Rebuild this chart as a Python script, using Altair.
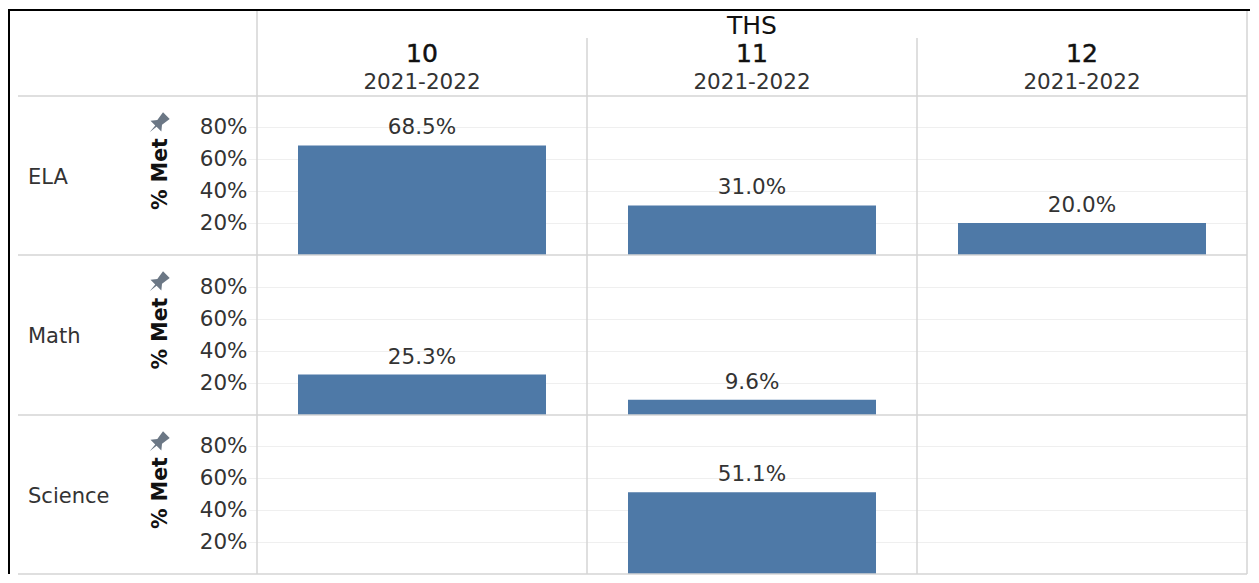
import altair as alt
import pandas as pd

grades = ["10", "11", "12"]
subjects = ["ELA", "Math", "Science"]
values = {
    "ELA": [0.685, 0.310, 0.200],
    "Math": [0.253, 0.096, None],
    "Science": [None, 0.511, None],
}
heights = [159, 160, 159]
y_max = [0.994, 1.0, 0.994]
ticks = [0.2, 0.4, 0.6, 0.8]
year = "2021-2022"
school = "THS"
FONT = "DejaVu Sans"
GRID = "#d4d4d4"
PIN = "M-0.4,-1 L0.4,-1 L0.28,-0.2 L0.65,0.25 L0.08,0.25 L0,1 L-0.08,0.25 L-0.65,0.25 L-0.28,-0.2 Z"
W = 990
LEFT = -248
RIGHT = 993
HH = 87

x_scale = alt.Scale(domain=grades, paddingInner=0, paddingOuter=0)
one = pd.DataFrame({"a": [1]})
gdf = pd.DataFrame({"grade": grades})


def rule(x=None, x2=None, y=None, y2=None, color=GRID, sw=1.5):
    enc = {}
    for k, v in (("x", x), ("x2", x2), ("y", y), ("y2", y2)):
        if v is not None:
            enc[k] = alt.value(v)
    return alt.Chart(one).mark_rule(color=color, strokeWidth=sw, clip=False).encode(**enc)


def grid_rule(df, y, y2):
    return alt.Chart(df).mark_rule(color=GRID, strokeWidth=1.5).encode(
        x=alt.X("grade:N", scale=x_scale, bandPosition=0, axis=None),
        y=alt.value(y), y2=alt.value(y2))


def row(name, h, ymax):
    df = pd.DataFrame({"grade": grades, "met": values[name]}).dropna()
    y = alt.Y("met:Q", scale=alt.Scale(domain=[0, ymax], nice=False),
              axis=alt.Axis(values=ticks, format=".0%", title="% Met", grid=True, gridColor="#efefef",
                            gridWidth=1, tickColor="#efefef", tickSize=9, domain=False,
                            labelFont=FONT, labelFontSize=21.5, labelColor="#333333", labelPadding=1,
                            titleFont=FONT, titleFontSize=20.5, titleFontWeight="bold", titleColor="#111111",
                            titleX=-87, titleY=h / 2 - 2))
    x = alt.X("grade:N", scale=x_scale, axis=None)
    bars = alt.Chart(df).mark_bar(color="#4e79a7", size=248).encode(x=x, y=y)
    labels = alt.Chart(df).mark_text(font=FONT, fontSize=21.5, color="#333333", baseline="bottom", dy=-6).encode(
        x=x, y=alt.Y("met:Q", scale=alt.Scale(domain=[0, ymax], nice=False)),
        text=alt.Text("met:Q", format=".1%"))
    name_label = alt.Chart(pd.DataFrame({"s": [name]})).mark_text(
        font=FONT, fontSize=21, color="#333333", align="left", baseline="middle").encode(
        x=alt.value(-229), y=alt.value(h / 2 + 2), text="s:N")
    pin = alt.Chart(one).mark_point(shape=PIN, filled=True, color="#6b7785", opacity=1, size=560, angle=45).encode(
        x=alt.value(-99), y=alt.value(28))
    return alt.layer(
        bars, labels, name_label, pin,
        grid_rule(gdf, 0, h),
        rule(x=W, y=0, y2=h),
        rule(x=-239, x2=W, y=h),
        rule(x=LEFT, y=0, y2=h, color="black", sw=2),
    ).properties(width=W, height=h)


header_x = alt.X("grade:N", scale=x_scale, axis=None)
hdf = pd.DataFrame({"grade": grades, "year": [year] * 3})
header = alt.layer(
    alt.Chart(hdf).mark_text(font=FONT, fontSize=25, color="#111111", stroke="#111111", strokeWidth=0.5,
                             baseline="middle").encode(x=header_x, y=alt.value(45), text="grade:N"),
    alt.Chart(hdf).mark_text(font=FONT, fontSize=21.5, color="#333333", baseline="middle").encode(
        x=header_x, y=alt.value(74), text="year:N"),
    alt.Chart(pd.DataFrame({"s": [school]})).mark_text(font=FONT, fontSize=25, color="#111111",
                                                       baseline="middle").encode(
        x=alt.value(495), y=alt.value(17), text="s:N"),
    grid_rule(gdf.iloc[:1], 2, HH),
    grid_rule(gdf.iloc[1:], 29, HH),
    rule(x=W, y=2, y2=HH),
    rule(x=-239, x2=W, y=HH),
    rule(x=LEFT, x2=RIGHT, y=1, color="black", sw=2),
    rule(x=LEFT, y=0, y2=HH, color="black", sw=2),
).properties(width=W, height=HH)

chart = alt.vconcat(
    header, *[row(s, h, m) for s, h, m in zip(subjects, heights, y_max)],
    spacing=0, bounds="flush",
).configure_view(stroke=None).properties(padding=0)

chart.save("out.html", embed_options={"renderer": "svg", "actions": False})
